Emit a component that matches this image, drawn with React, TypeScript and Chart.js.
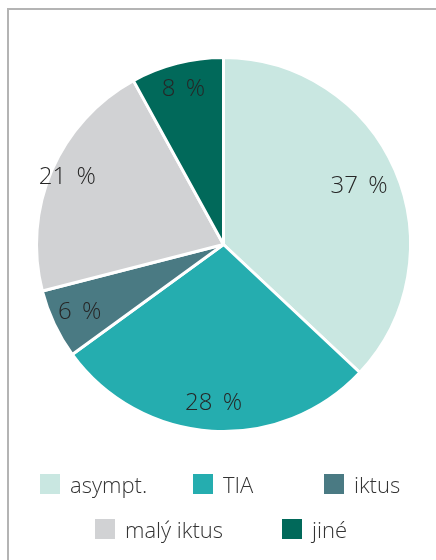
import React, { useEffect, useRef } from "react";
import { Chart, registerables } from "chart.js";

Chart.register(...registerables);

const categories = ["asympt.", "TIA", "iktus", "malý iktus", "jiné"];
const values = [37, 28, 6, 21, 8];
const colors = ["#c9e7e1", "#25adaf", "#4a7a83", "#d1d2d4", "#01695a"];
const labelRadius = [0.79, 0.85, 0.85, 0.91, 0.86];

const FONT = '"Segoe UI", "Open Sans", "Noto Sans", sans-serif';

const legendRows: { idx: number; left: number; top: number }[] = [
  { idx: 0, left: 40, top: 474 },
  { idx: 1, left: 193, top: 474 },
  { idx: 2, left: 324, top: 474 },
  { idx: 3, left: 95, top: 519 },
  { idx: 4, left: 282, top: 519 },
];

const labelPlugin = {
  id: "sliceLabels",
  afterDatasetsDraw(chart: any) {
    const ctx = chart.ctx;
    const meta = chart.getDatasetMeta(0);
    ctx.save();
    ctx.font = `300 24px ${FONT}`;
    ctx.fillStyle = "#262626";
    ctx.textAlign = "center";
    ctx.textBaseline = "middle";
    meta.data.forEach((arc: any, i: number) => {
      const p = arc.getProps(["x", "y", "startAngle", "endAngle", "outerRadius"], true);
      const a = (p.startAngle + p.endAngle) / 2;
      const r = p.outerRadius * labelRadius[i];
      ctx.fillText(values[i] + "\u2009 %", p.x + Math.cos(a) * r, p.y + Math.sin(a) * r);
    });
    ctx.restore();
  },
};

export default function App() {
  const ref = useRef<HTMLCanvasElement>(null);
  useEffect(() => {
    const chart = new Chart(ref.current!, {
      type: "pie",
      data: {
        labels: categories,
        datasets: [
          {
            data: values,
            backgroundColor: colors,
            borderColor: "#ffffff",
            borderWidth: 3,
          },
        ],
      },
      options: {
        responsive: false,
        animation: false,
        layout: { padding: { top: 56, bottom: 127, left: 11, right: 0 } },
        plugins: {
          legend: { display: false },
          tooltip: { enabled: false },
        },
      },
      plugins: [labelPlugin],
    });
    return () => chart.destroy();
  }, []);

  return (
    <div
      style={{
        position: "fixed",
        left: 0,
        top: 0,
        width: 436,
        height: 560,
        background: "#fff",
        overflow: "hidden",
      }}
    >
      <div
        style={{
          position: "absolute",
          left: 7,
          top: 8,
          width: 460,
          height: 600,
          border: "2px solid #b4b4b4",
          boxSizing: "border-box",
        }}
      />
      <canvas
        ref={ref}
        width={436}
        height={560}
        style={{ position: "absolute", left: 0, top: 0 }}
      />
      {legendRows.map((it) => (
        <div
          key={it.idx}
          style={{
            position: "absolute",
            left: it.left,
            top: it.top,
            height: 20,
            display: "flex",
            alignItems: "center",
            whiteSpace: "nowrap",
            fontFamily: FONT,
            fontWeight: 300,
            fontSize: 22,
            color: "#333",
          }}
        >
          <span
            style={{
              display: "inline-block",
              width: 20,
              height: 20,
              background: colors[it.idx],
              marginRight: 10,
              flex: "none",
            }}
          />
          <span>{categories[it.idx]}</span>
        </div>
      ))}
    </div>
  );
}
